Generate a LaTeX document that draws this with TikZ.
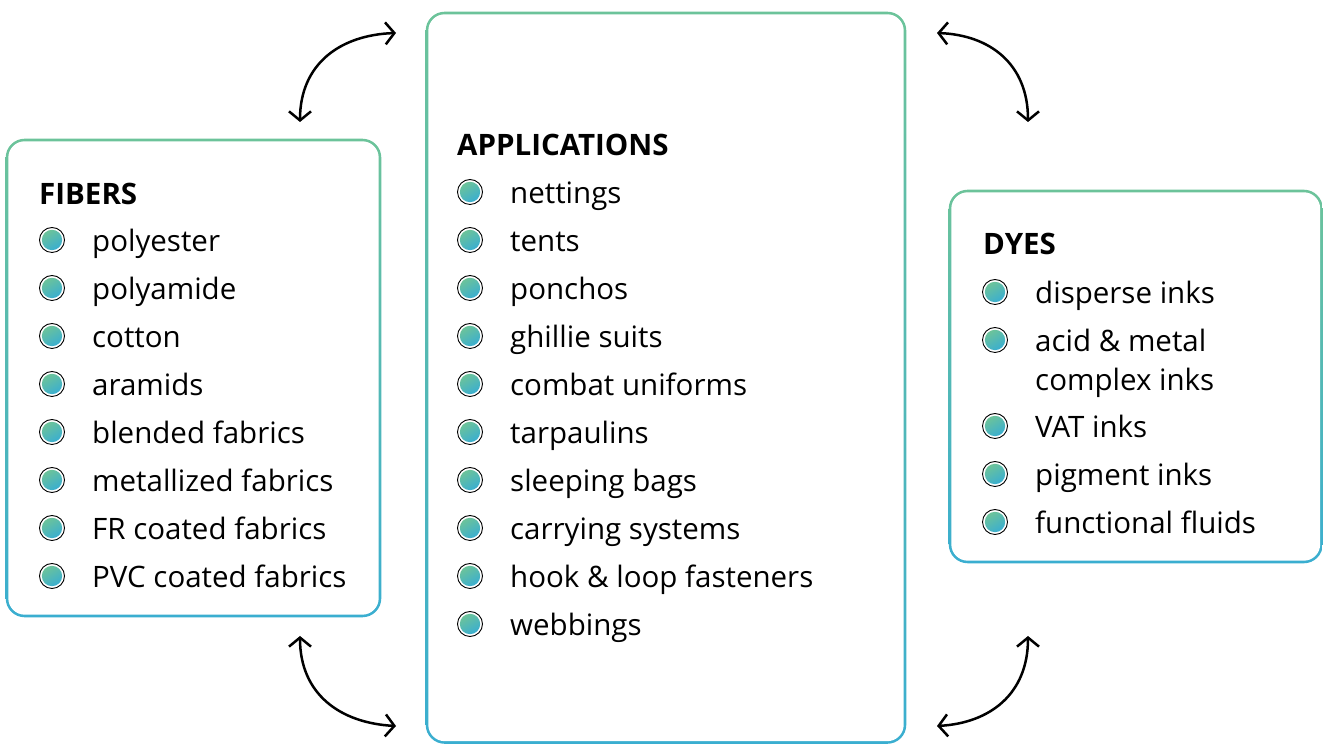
\documentclass[tikz,border=0pt]{standalone}
\usepackage{fontspec}
\setmainfont{Open Sans}
\usetikzlibrary{arrows.meta}
\definecolor{tgreen}{RGB}{108,195,154}
\definecolor{tblue}{RGB}{58,174,208}
\tikzset{
  itemtext/.style={anchor=base west, inner sep=0pt, font=\fontsize{29.5}{34}\selectfont},
  headtext/.style={anchor=base west, inner sep=0pt, font=\fontsize{29.5}{34}\selectfont\bfseries},
  link/.style={line width=2.5pt, {Straight Barb[length=9pt,width=22pt]}-{Straight Barb[length=9pt,width=22pt]}},
}
\newcommand\gbox[5]{% name, x1,y1,x2,y2
  \shade[top color=tgreen, bottom color=tblue, rounded corners=19pt] (#2-1.3,#3-1.3) rectangle (#4+1.3,#5+1.3);
  \fill[white, rounded corners=16.5pt] (#2+1.3,#3+1.3) rectangle (#4-1.3,#5-1.3);
  \coordinate (#1) at ({(#2+#4)/2},{(#3+#5)/2});
}
\newcommand\bul[2]{% x, y (center)
  \draw[black, line width=0.9pt] (#1,#2) circle (12.5);
  \shade[top color=tgreen, bottom color=tblue, shading angle=30] (#1,#2) circle (10.2);
}
\newcommand\itm[4]{% name, textx, baseline, text
  \bul{#2-40}{#3+12}
  \node[itemtext] (#1) at (#2,#3) {#4};
}
\begin{document}
\begin{tikzpicture}[x=1pt,y=1pt]
\useasboundingbox (0,0) rectangle (1323,744);
% boxes
\gbox{fib}{7}{128}{380}{604}
\gbox{app}{427}{1.5}{905}{731}
\gbox{dye}{950}{182}{1321.5}{553}
% FIBERS
\node[headtext] (fibh) at (39,539) {FIBERS};
\itm{f1}{92}{492}{polyester}
\itm{f2}{92}{444}{polyamide}
\itm{f3}{92}{396}{cotton}
\itm{f4}{92}{348}{aramids}
\itm{f5}{92}{300}{blended fabrics}
\itm{f6}{92}{252}{metallized fabrics}
\itm{f7}{92}{204}{FR coated fabrics}
\itm{f8}{92}{156}{PVC coated fabrics}
% APPLICATIONS
\node[headtext] (apph) at (457,588) {APPLICATIONS};
\itm{a1}{510}{540}{nettings}
\itm{a2}{510}{492}{tents}
\itm{a3}{510}{444}{ponchos}
\itm{a4}{510}{396}{ghillie suits}
\itm{a5}{510}{348}{combat uniforms}
\itm{a6}{510}{300}{tarpaulins}
\itm{a7}{510}{252}{sleeping bags}
\itm{a8}{510}{204}{carrying systems}
\itm{a9}{510}{156}{hook \& loop fasteners}
\itm{a10}{510}{108}{webbings}
% DYES
\node[headtext] (dyeh) at (983,489) {DYES};
\itm{d1}{1035}{440}{disperse inks}
\itm{d2}{1035}{392}{acid \& metal}
\node[itemtext] (d2b) at (1035,353) {complex inks};
\itm{d3}{1035}{306}{VAT inks}
\itm{d4}{1035}{258}{pigment inks}
\itm{d5}{1035}{210}{functional fluids}
% arrows
\coordinate (tl1) at (300,622); \coordinate (tl2) at (396,711);
\coordinate (tr1) at (1028,622); \coordinate (tr2) at (937,711);
\coordinate (bl1) at (300,108); \coordinate (bl2) at (396,18);
\coordinate (br1) at (1028,108); \coordinate (br2) at (937,18);
\draw[link] (tl1) .. controls (300,680) and (340,709) .. (tl2);
\draw[link] (tr1) .. controls (1028,680) and (990,709) .. (tr2);
\draw[link] (bl1) .. controls (300,50) and (340,21) .. (bl2);
\draw[link] (br1) .. controls (1028,50) and (990,21) .. (br2);
\end{tikzpicture}
\end{document}
